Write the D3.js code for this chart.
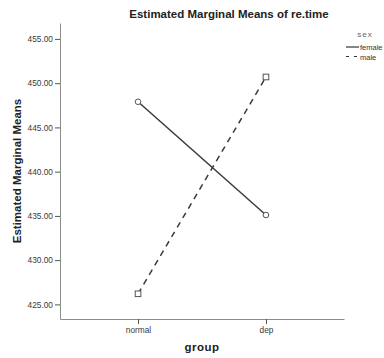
<!DOCTYPE html>
<html>
<head>
    <title>Estimated Marginal Means</title>
    <script src='https://cdn.jsdelivr.net/npm/d3@7'></script>
    <style type='text/css'>
        html, body {
            margin: 0;
            padding: 0;
            background: white;
            overflow: hidden;
        }
        text {
            font-family: 'Liberation Sans', Arial, sans-serif;
        }
    </style>
</head>
<body>
    <script>
        // Data:
        const groups = ['normal', 'dep'];
        const sexes = ['female', 'male'];
        const femaleMeans = [447.9, 435.1];
        const maleMeans = [426.2, 450.7];
        const yTicks = [425, 430, 435, 440, 445, 450, 455];

        const width = 384, height = 358;
        const margin = {left: 60, right: 40, top: 23, bottom: 39};

        const svg = d3.select('body').append('svg')
            .attr('width', width)
            .attr('height', height);

        // scales
        const x = d3.scalePoint()
            .domain(groups)
            .range([margin.left, width - margin.right])
            .padding(0.61);
        const y = d3.scaleLinear()
            .domain([423.35, 456.8])
            .range([height - margin.bottom, margin.top]);

        const series = [
            {name: sexes[0], values: femaleMeans, dash: null, shape: 'circle'},
            {name: sexes[1], values: maleMeans, dash: '6,5', shape: 'square'}
        ];

        // axes
        const yAxis = svg.append('g')
            .attr('transform', `translate(${margin.left},0)`)
            .call(d3.axisLeft(y).tickValues(yTicks).tickSize(5).tickSizeOuter(0).tickFormat(d3.format('.2f')));
        const xAxis = svg.append('g')
            .attr('transform', `translate(0,${height - margin.bottom})`)
            .call(d3.axisBottom(x).tickSize(5).tickSizeOuter(0));
        [xAxis, yAxis].forEach(ax => {
            ax.select('.domain').attr('stroke', '#8c8c8c');
            ax.selectAll('.tick line').attr('stroke', '#555');
            ax.selectAll('.tick text')
                .attr('fill', '#3a3a3a')
                .style('font-size', '8.3px')
                .style('font-family', "'Liberation Sans', Arial, sans-serif");
        });
        yAxis.selectAll('.tick text').attr('x', -7);
        xAxis.selectAll('.tick text').attr('y', 8);

        // lines
        const line = d3.line()
            .x((d, i) => x(groups[i]))
            .y(d => y(d));
        svg.append('g').selectAll('path')
            .data(series).join('path')
            .attr('d', d => line(d.values))
            .attr('fill', 'none')
            .attr('stroke', '#3a3a3a')
            .attr('stroke-width', 1.5)
            .attr('stroke-dasharray', d => d.dash);

        // markers
        series.forEach(s => {
            const g = svg.append('g');
            s.values.forEach((v, i) => {
                if (s.shape === 'circle') {
                    g.append('circle')
                        .attr('cx', x(groups[i]))
                        .attr('cy', y(v))
                        .attr('r', 2.8);
                } else {
                    g.append('rect')
                        .attr('x', x(groups[i]) - 2.8)
                        .attr('y', y(v) - 2.8)
                        .attr('width', 5.6)
                        .attr('height', 5.6);
                }
            });
            g.selectAll('circle, rect')
                .attr('fill', 'white')
                .attr('stroke', '#555')
                .attr('stroke-width', 1);
        });

        // titles
        svg.append('text')
            .attr('x', 229)
            .attr('y', 18)
            .attr('text-anchor', 'middle')
            .style('font-size', '11.5px')
            .style('font-weight', 'bold')
            .attr('fill', '#222')
            .text('Estimated Marginal Means of re.time');
        svg.append('text')
            .attr('transform', `translate(21,${(margin.top + height - margin.bottom) / 2}) rotate(-90)`)
            .attr('text-anchor', 'middle')
            .style('font-size', '11.5px')
            .style('font-weight', 'bold')
            .attr('fill', '#222')
            .text('Estimated Marginal Means');
        svg.append('text')
            .attr('x', (margin.left + width - margin.right) / 2)
            .attr('y', 351)
            .attr('text-anchor', 'middle')
            .style('font-size', '11.5px')
            .style('font-weight', 'bold')
            .style('letter-spacing', '0.5px')
            .attr('fill', '#222')
            .text('group');

        // legend
        const legend = svg.append('g').attr('transform', 'translate(346,0)');
        legend.append('text')
            .attr('x', 19)
            .attr('y', 37)
            .attr('text-anchor', 'middle')
            .style('font-size', '8px')
            .style('letter-spacing', '1px')
            .attr('fill', '#666')
            .text('sex');
        const item = legend.selectAll('.item')
            .data(series).join('g')
            .attr('transform', (d, i) => `translate(0,${47 + i * 9.5})`);
        item.append('line')
            .attr('x1', 0).attr('x2', 13)
            .attr('stroke', '#333')
            .attr('stroke-width', 1.2)
            .attr('stroke-dasharray', d => d.dash ? '3,5' : null);
        item.append('text')
            .attr('x', 14)
            .attr('y', 3)
            .style('font-size', '7.5px')
            .attr('fill', '#333')
            .text(d => d.name);
    </script>
</body>
</html>
